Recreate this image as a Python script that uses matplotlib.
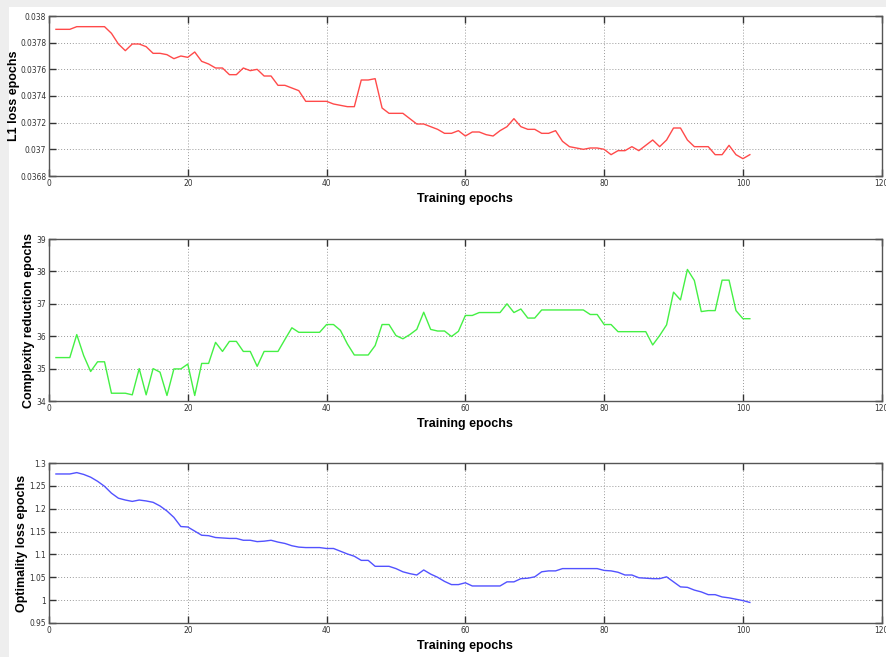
import matplotlib
matplotlib.use("Agg")
import matplotlib.pyplot as plt
from matplotlib.ticker import FuncFormatter

epochs = list(range(1, 102))

l1_loss = [0.03790, 0.03790, 0.03790, 0.03792, 0.03792, 0.03792, 0.03792, 0.03792, 0.03787, 0.03779,
           0.03774, 0.03779, 0.03779, 0.03777, 0.03772, 0.03772, 0.03771, 0.03768, 0.03770, 0.03769,
           0.03773, 0.03766, 0.03764, 0.03761, 0.03761, 0.03756, 0.03756, 0.03761, 0.03759, 0.03760,
           0.03755, 0.03755, 0.03748, 0.03748, 0.03746, 0.03744, 0.03736, 0.03736, 0.03736, 0.03736,
           0.03734, 0.03733, 0.03732, 0.03732, 0.03752, 0.03752, 0.03753, 0.03731, 0.03727, 0.03727,
           0.03727, 0.03723, 0.03719, 0.03719, 0.03717, 0.03715, 0.03712, 0.03712, 0.03714, 0.03710,
           0.03713, 0.03713, 0.03711, 0.03710, 0.03714, 0.03717, 0.03723, 0.03717, 0.03715, 0.03715,
           0.03712, 0.03712, 0.03714, 0.03706, 0.03702, 0.03701, 0.03700, 0.03701, 0.03701, 0.03700,
           0.03696, 0.03699, 0.03699, 0.03702, 0.03699, 0.03703, 0.03707, 0.03702, 0.03707, 0.03716,
           0.03716, 0.03707, 0.03702, 0.03702, 0.03702, 0.03696, 0.03696, 0.03703, 0.03696, 0.03693,
           0.03696]

complexity = [35.34, 35.34, 35.34, 36.05, 35.40, 34.91, 35.21, 35.21, 34.24, 34.24,
              34.24, 34.19, 35.00, 34.19, 35.00, 34.89, 34.17, 34.99, 34.99, 35.14,
              34.17, 35.16, 35.16, 35.81, 35.53, 35.84, 35.84, 35.53, 35.53, 35.07,
              35.53, 35.53, 35.53, 35.90, 36.26, 36.12, 36.12, 36.12, 36.12, 36.36,
              36.36, 36.18, 35.76, 35.42, 35.42, 35.42, 35.71, 36.36, 36.36, 36.02,
              35.92, 36.05, 36.21, 36.74, 36.21, 36.16, 36.16, 35.99, 36.15, 36.64,
              36.64, 36.73, 36.73, 36.73, 36.73, 37.00, 36.73, 36.84, 36.56, 36.56,
              36.81, 36.81, 36.81, 36.81, 36.81, 36.81, 36.81, 36.67, 36.67, 36.36,
              36.36, 36.14, 36.14, 36.14, 36.14, 36.14, 35.73, 36.02, 36.35, 37.36,
              37.12, 38.06, 37.72, 36.76, 36.79, 36.79, 37.73, 37.73, 36.79, 36.54,
              36.54]

optimality = [1.276, 1.276, 1.276, 1.279, 1.275, 1.269, 1.260, 1.249, 1.234, 1.223,
              1.219, 1.216, 1.219, 1.217, 1.214, 1.206, 1.195, 1.181, 1.161, 1.160,
              1.151, 1.142, 1.141, 1.137, 1.136, 1.135, 1.135, 1.131, 1.131, 1.128,
              1.129, 1.131, 1.127, 1.124, 1.119, 1.116, 1.115, 1.115, 1.115, 1.113,
              1.113, 1.107, 1.101, 1.096, 1.087, 1.087, 1.074, 1.074, 1.074, 1.069,
              1.062, 1.058, 1.055, 1.066, 1.057, 1.050, 1.041, 1.034, 1.034, 1.038,
              1.031, 1.031, 1.031, 1.031, 1.031, 1.040, 1.040, 1.047, 1.048, 1.051,
              1.062, 1.064, 1.064, 1.069, 1.069, 1.069, 1.069, 1.069, 1.069, 1.065,
              1.064, 1.061, 1.055, 1.055, 1.049, 1.048, 1.047, 1.047, 1.051, 1.040,
              1.029, 1.028, 1.022, 1.018, 1.012, 1.012, 1.007, 1.005, 1.002, 0.999,
              0.995]

x_ticks = [0, 20, 40, 60, 80, 100, 120]
l1_ticks = [0.0368, 0.037, 0.0372, 0.0374, 0.0376, 0.0378, 0.038]
cx_ticks = [34, 35, 36, 37, 38, 39]
op_ticks = [0.95, 1.0, 1.05, 1.1, 1.15, 1.2, 1.25, 1.3]

series = [
    (l1_loss, "L1 loss epochs", "#ff4a4a", l1_ticks, -0.0352),
    (complexity, "Complexity reduction epochs", "#44f044", cx_ticks, -0.0168),
    (optimality, "Optimality loss epochs", "#5252ff", op_ticks, -0.0252),
]

plt.rcParams['font.family'] = ['DejaVu Sans']
plt.rcParams['font.stretch'] = 'condensed'

fig = plt.figure(figsize=(8.86, 6.57), dpi=100, facecolor="white")

# light grey page border (left & top)
fig.patches.append(plt.Rectangle((0, 0), 9 / 886, 1, transform=fig.transFigure,
                                 facecolor="#eeeeee", edgecolor="none", zorder=-1))
fig.patches.append(plt.Rectangle((0, 1 - 7 / 657), 1, 7 / 657, transform=fig.transFigure,
                                 facecolor="#eeeeee", edgecolor="none", zorder=-1))

positions = [
    [49 / 886, (657 - 176) / 657, (881.7 - 49) / 886, 160 / 657],
    [49 / 886, (657 - 401) / 657, (881.7 - 49) / 886, 162 / 657],
    [49 / 886, (657 - 623) / 657, (881.7 - 49) / 886, 160 / 657],
]

def fmt(v, pos):
    return "%g" % v

for (vals, ylabel, color, yticks, ylab_x), pos in zip(series, positions):
    ax = fig.add_axes(pos)
    ax.plot(epochs, vals, color=color, linewidth=1.0)
    ax.set_xlim(0, 120)
    ax.set_ylim(yticks[0], yticks[-1])
    ax.set_xticks(x_ticks)
    ax.set_yticks(yticks)
    ax.yaxis.set_major_formatter(FuncFormatter(fmt))
    ax.grid(True, linestyle=(0, (1, 2)), color="#999999", linewidth=0.7)
    ax.tick_params(direction="in", length=5, width=1.0, labelsize=6, colors="#333333",
                   top=True, right=True, pad=2)
    for sp in ax.spines.values():
        sp.set_color("#555555")
        sp.set_linewidth(1.0)
    ax.set_xlabel("Training epochs", fontsize=9, fontweight="bold", labelpad=4,
                  family=['Liberation Sans', 'DejaVu Sans'], fontstretch='normal')
    ax.set_ylabel(ylabel, fontsize=9, fontweight="bold",
                  family=['Liberation Sans', 'DejaVu Sans'], fontstretch='normal')
    ax.yaxis.set_label_coords(ylab_x, 0.5)

fig.savefig("out.png", dpi=100, facecolor="white")
